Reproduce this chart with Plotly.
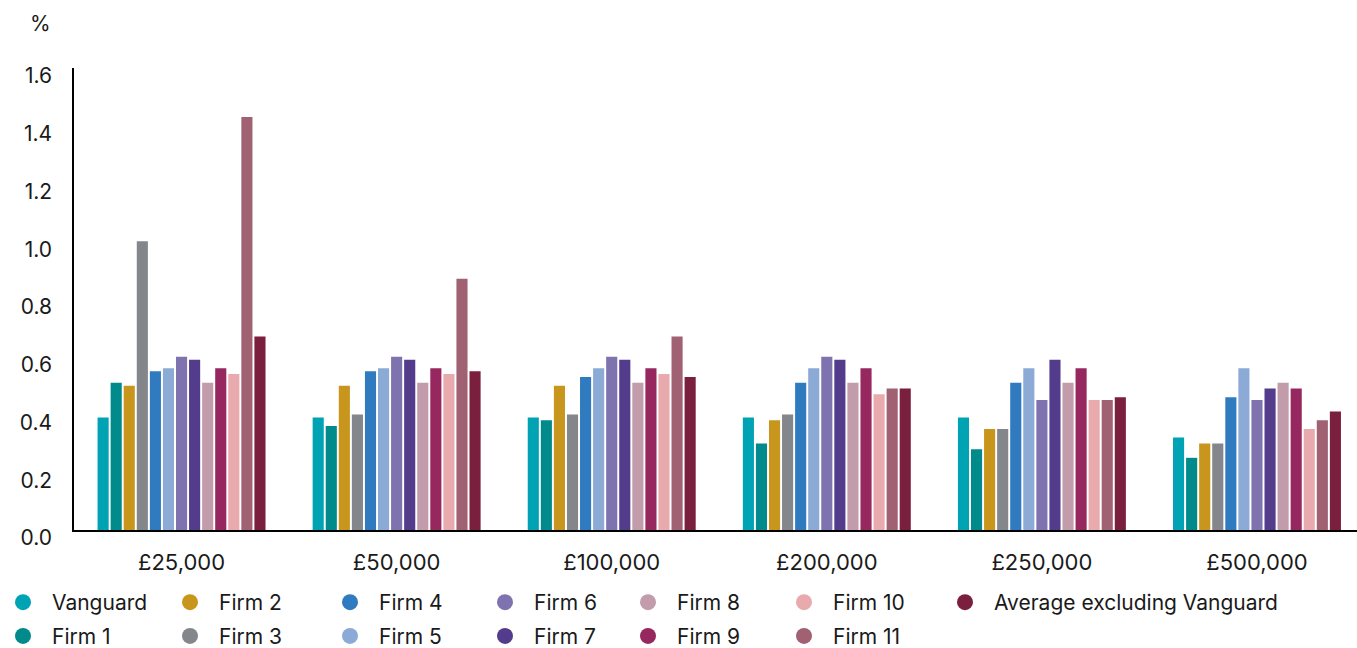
import plotly.graph_objects as go

categories = ["£25,000", "£50,000", "£100,000", "£200,000", "£250,000", "£500,000"]

series_names = ["Vanguard", "Firm 1", "Firm 2", "Firm 3", "Firm 4", "Firm 5", "Firm 6",
                "Firm 7", "Firm 8", "Firm 9", "Firm 10", "Firm 11", "Average excluding Vanguard"]

vanguard = [0.39, 0.39, 0.39, 0.39, 0.39, 0.32]
firm1 = [0.51, 0.36, 0.38, 0.30, 0.28, 0.25]
firm2 = [0.50, 0.50, 0.50, 0.38, 0.35, 0.30]
firm3 = [1.00, 0.40, 0.40, 0.40, 0.35, 0.30]
firm4 = [0.55, 0.55, 0.53, 0.51, 0.51, 0.46]
firm5 = [0.56, 0.56, 0.56, 0.56, 0.56, 0.56]
firm6 = [0.60, 0.60, 0.60, 0.60, 0.45, 0.45]
firm7 = [0.59, 0.59, 0.59, 0.59, 0.59, 0.49]
firm8 = [0.51, 0.51, 0.51, 0.51, 0.51, 0.51]
firm9 = [0.56, 0.56, 0.56, 0.56, 0.56, 0.49]
firm10 = [0.54, 0.54, 0.54, 0.47, 0.45, 0.35]
firm11 = [1.43, 0.87, 0.67, 0.49, 0.45, 0.38]
average = [0.67, 0.55, 0.53, 0.49, 0.46, 0.41]

series_values = [vanguard, firm1, firm2, firm3, firm4, firm5, firm6,
                 firm7, firm8, firm9, firm10, firm11, average]

colors = ["#00A3B4", "#008A8C", "#C8961C", "#83868B", "#307BBF", "#8BAAD6", "#7E73AF",
          "#533C8B", "#C29CAA", "#96285F", "#E8AAAD", "#A06172", "#7A1F3D"]

y_ticks = [0.0, 0.2, 0.4, 0.6, 0.8, 1.0, 1.2, 1.4, 1.6]

FONT = "Inter"
TXT = "#1a1a1a"

W, H = 1357, 648
L, R, T, B = 74, 0, 68, 118
PW = W - L - R
PH = H - T - B

fig = go.Figure()

for name, vals, col in zip(series_names, series_values, colors):
    fig.add_trace(go.Bar(x=categories, y=vals, name=name, marker_color=col,
                         marker_line_width=0, showlegend=False, hoverinfo="x+y+name"))

# legend columns (column-major, two rows)
legend_cols = [(0, 1), (2, 3), (4, 5), (6, 7), (8, 9), (10, 11), (12,)]
marker_centers = [23, 190, 350, 505, 648, 804, 965]

layout_legends = {}
for ci, (idxs, mc) in enumerate(zip(legend_cols, marker_centers)):
    lname = "legend" if ci == 0 else f"legend{ci + 1}"
    for i in idxs:
        fig.add_trace(go.Scatter(x=[None], y=[None], mode="markers", name=series_names[i],
                                 marker=dict(color=colors[i], size=16, symbol="circle"),
                                 legend=lname, legendgroup=series_names[i], showlegend=True,
                                 hoverinfo="skip"))
    left = mc - 29
    layout_legends[lname] = dict(
        x=(left - L) / PW, xanchor="left",
        y=(T + PH - 582) / PH, yanchor="top",
        orientation="v", itemwidth=48, tracegroupgap=3.5,
        font=dict(family=FONT, size=21, color=TXT),
        bgcolor="rgba(0,0,0,0)", borderwidth=0,
    )

fig.update_layout(
    width=W, height=H,
    margin=dict(l=L, r=R, t=T, b=B, pad=0, autoexpand=False),
    paper_bgcolor="white", plot_bgcolor="white",
    barmode="group", bargap=0.21, bargroupgap=0.15,
    font=dict(family=FONT, size=21, color=TXT),
    showlegend=True,
    **layout_legends,
)

fig.update_xaxes(
    range=[-0.5, 5.465], showgrid=False, zeroline=False,
    showline=True, linecolor="black", linewidth=2,
    ticks="", tickfont=dict(family=FONT, size=22, color=TXT),
    ticklabelstandoff=12,
)
fig.update_yaxes(
    range=[0, 1.6], tickvals=y_ticks, ticktext=[f"{v:.1f}" for v in y_ticks],
    showgrid=False, zeroline=False,
    showline=True, linecolor="black", linewidth=1.5,
    ticks="", tickfont=dict(family=FONT, size=21, color=TXT),
    ticklabelstandoff=16, ticklabelshift=8,
)

fig.add_annotation(text="%", xref="paper", yref="paper",
                   x=(40 - L) / PW, y=(T + PH - 24) / PH,
                   xanchor="center", yanchor="middle", showarrow=False,
                   font=dict(family=FONT, size=21, color=TXT))

fig.write_html("out.html")
